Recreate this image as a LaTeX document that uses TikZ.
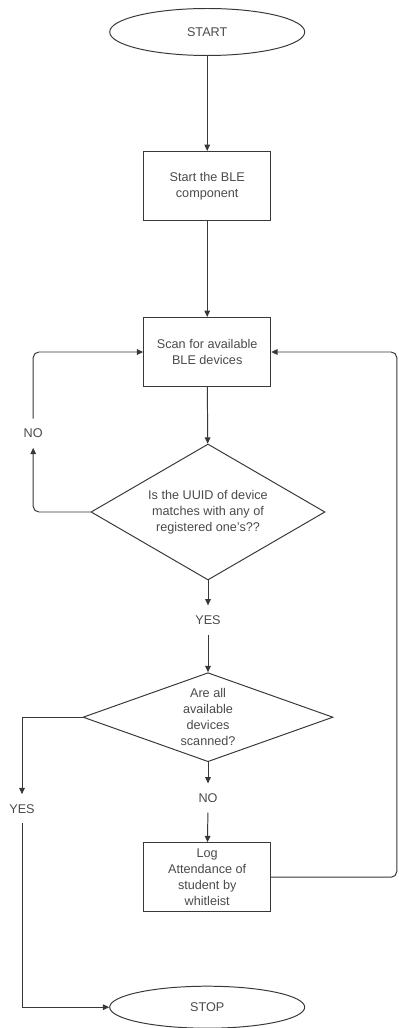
\documentclass[tikz,border=0pt]{standalone}
\usepackage{fontspec}
\setmainfont{Liberation Sans}
\usetikzlibrary{shapes.geometric,arrows.meta}

\definecolor{linegray}{HTML}{383838}
\definecolor{textgray}{HTML}{4A4A4A}

\tikzset{
  every node/.style={font=\fontsize{9}{11.5}\selectfont, text=textgray},
  terminal/.style={draw=linegray, line width=0.7pt, ellipse, minimum width=4.875cm, minimum height=1.175cm, inner sep=0pt},
  process/.style={draw=linegray, line width=0.7pt, rectangle, minimum width=3.175cm, minimum height=1.725cm, align=center, inner sep=1pt},
  decision/.style={draw=linegray, line width=0.7pt, diamond, align=center, inner sep=0pt},
  answer/.style={inner xsep=2pt, inner ysep=7pt},
  flow/.style={draw=linegray, line width=0.7pt, -{Triangle[length=4.5pt,width=4pt]}}
}

\begin{document}
\begin{tikzpicture}
        \useasboundingbox (0,0) rectangle (9.95,-25.7);

        \node[terminal] (start) at (5.18, -0.8) {START};
        \node[process] (ble) at (5.18, -4.65) {Start the BLE\\component};
        \node[process] (scan) at (5.18, -8.8) {Scan for available\\BLE devices};
        \node[decision, minimum width=5.85cm, minimum height=3.4cm, aspect=1.72] (match) at (5.2, -12.8)
            {Is the UUID of device\\matches with any of\\registered one's??};
        \node[answer] (yesa) at (5.2, -15.5) {YES};
        \node[decision, minimum width=6.25cm, minimum height=2.225cm, aspect=2.8] (all) at (5.2, -17.93)
            {Are all\\available\\devices\\scanned?};
        \node[answer] (nob) at (5.2, -19.95) {NO};
        \node[process] (log) at (5.18, -21.93) {Log\\Attendance of\\student by\\whitleist};
        \node[terminal, minimum height=1.05cm] (stop) at (5.18, -25.18) {STOP};
        \node[answer] (noa) at (0.83, -10.83) {NO};
        \node[answer] (yesb) at (0.55, -20.22) {YES};
        \coordinate (back) at (9.92, -8.8);

        \draw[flow] (start) -- (ble);
        \draw[flow] (ble) -- (scan);
        \draw[flow] (scan) -- (match);

        \draw[flow, rounded corners=4pt] (match.west) -| (noa);
        \draw[flow, rounded corners=4pt] (noa) |- (scan.west);

        \draw[flow] (match) -- (yesa);
        \draw[flow] (yesa) -- (all);

        \draw[flow] (all.west) -| (yesb);
        \draw[flow] (yesb) |- (stop.west);

        \draw[flow] (all) -- (nob);
        \draw[flow] (nob) -- (log);

        \draw[flow, rounded corners=4pt] (log.east) -| (back) -- (scan.east);
\end{tikzpicture}
\end{document}
